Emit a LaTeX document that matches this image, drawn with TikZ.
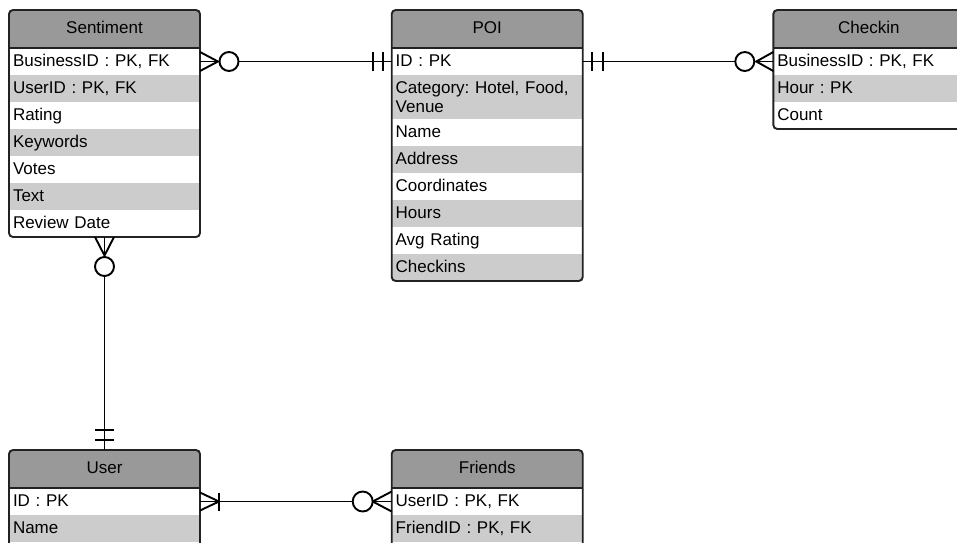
\documentclass[tikz,border=0pt]{standalone}
\usepackage{fontspec}
\setmainfont{Liberation Sans}
\frenchspacing
\definecolor{headgray}{HTML}{999999}
\definecolor{rowgray}{HTML}{CCCCCC}
\definecolor{edge}{HTML}{222222}
\tikzset{
  erfont/.style={font=\fontsize{17}{19.5}\selectfont\frenchspacing},
  erhead/.style={erfont, anchor=north west, minimum width=191pt, minimum height=38pt,
    fill=headgray, inner sep=0pt, outer sep=0pt, text height=12pt, text depth=3pt},
  rowbase/.style={erfont, anchor=north west, text width=183pt, inner xsep=4pt, inner ysep=0pt,
    minimum height=27pt, outer sep=0pt, align=left},
  erow/.style={rowbase, text height=12pt, text depth=3pt},
  whiterow/.style={erow, fill=white},
  grayrow/.style={erow, fill=rowgray},
  frame/.style={draw=edge, line width=1.9pt, rounded corners=4pt},
  divider/.style={draw=edge, line width=1.9pt},
  conn/.style={draw=black, line width=1.9pt},
}
\begin{document}
\begin{tikzpicture}[x=1pt,y=-1pt]
\useasboundingbox (0,0) rectangle (957,542);
\clip (0,0) rectangle (957,542);
\fill[white] (0,0) rectangle (957,542);

% ---------- Sentiment ----------
\begin{scope}
  \clip[rounded corners=4pt] (9,10) rectangle (200,237);
  \node[erhead] (sent) at (9,10) {Sentiment};
  \node[whiterow] (sent1) at (sent.south west) {BusinessID : PK, FK};
  \node[grayrow] (sent2) at (sent1.south west) {UserID : PK, FK};
  \node[whiterow] (sent3) at (sent2.south west) {Rating};
  \node[grayrow] (sent4) at (sent3.south west) {Keywords};
  \node[whiterow] (sent5) at (sent4.south west) {Votes};
  \node[grayrow] (sent6) at (sent5.south west) {Text};
  \node[whiterow] (sent7) at (sent6.south west) {Review Date};
\end{scope}
\draw[frame] (sent.north west) rectangle (sent7.south east);
\draw[divider] (sent.south west) -- (sent.south east);

% ---------- POI ----------
\begin{scope}
  \clip[rounded corners=4pt] (391.7,10) rectangle (582.7,281);
  \node[erhead] (poi) at (391.7,10) {POI};
  \node[whiterow] (poi1) at (poi.south west) {ID : PK};
  \node[rowbase, fill=rowgray, minimum height=44pt] (poi2) at (poi1.south west) {Category: Hotel, Food,\\Venue};
  \node[whiterow] (poi3) at (poi2.south west) {Name};
  \node[grayrow] (poi4) at (poi3.south west) {Address};
  \node[whiterow] (poi5) at (poi4.south west) {Coordinates};
  \node[grayrow] (poi6) at (poi5.south west) {Hours};
  \node[whiterow] (poi7) at (poi6.south west) {Avg Rating};
  \node[grayrow] (poi8) at (poi7.south west) {Checkins};
\end{scope}
\draw[frame] (poi.north west) rectangle (poi8.south east);
\draw[divider] (poi.south west) -- (poi.south east);

% ---------- Checkin ----------
\begin{scope}
  \clip[rounded corners=4pt] (773.3,10) rectangle (964.3,129);
  \node[erhead] (chk) at (773.3,10) {Checkin};
  \node[whiterow] (chk1) at (chk.south west) {BusinessID : PK, FK};
  \node[grayrow] (chk2) at (chk1.south west) {Hour : PK};
  \node[whiterow] (chk3) at (chk2.south west) {Count};
\end{scope}
\draw[frame] (chk.north west) rectangle (chk3.south east);
\draw[divider] (chk.south west) -- (chk.south east);

% ---------- User ----------
\begin{scope}
  \clip[rounded corners=4pt] (9,450) rectangle (200,560);
  \node[erhead] (user) at (9,450) {User};
  \node[whiterow] (user1) at (user.south west) {ID : PK};
  \node[grayrow] (user2) at (user1.south west) {Name};
\end{scope}
\draw[frame] (user.north west) rectangle ([yshift=-20pt]user2.south east);
\draw[divider] (user.south west) -- (user.south east);

% ---------- Friends ----------
\begin{scope}
  \clip[rounded corners=4pt] (391.7,450) rectangle (582.7,560);
  \node[erhead] (fr) at (391.7,450) {Friends};
  \node[whiterow] (fr1) at (fr.south west) {UserID : PK, FK};
  \node[grayrow] (fr2) at (fr1.south west) {FriendID : PK, FK};
\end{scope}
\draw[frame] (fr.north west) rectangle ([yshift=-20pt]fr2.south east);
\draw[divider] (fr.south west) -- (fr.south east);

% ---------- Sentiment (zero or many) -- POI (one and only one) ----------
\draw[conn] (sent1.east) -- (poi1.west);
\draw[conn] ([yshift=9.5pt]sent1.east) -- ([xshift=18pt]sent1.east) -- ([yshift=-9.5pt]sent1.east);
\draw[conn, fill=white] ([xshift=29pt]sent1.east) circle[radius=9.5pt];
\draw[conn] ([xshift=-19pt,yshift=9.5pt]poi1.west) -- ([xshift=-19pt,yshift=-9.5pt]poi1.west);
\draw[conn] ([xshift=-9pt,yshift=9.5pt]poi1.west) -- ([xshift=-9pt,yshift=-9.5pt]poi1.west);

% ---------- POI (one and only one) -- Checkin (zero or many) ----------
\draw[conn] (poi1.east) -- (chk1.west);
\draw[conn] ([xshift=9.5pt,yshift=9.5pt]poi1.east) -- ([xshift=9.5pt,yshift=-9.5pt]poi1.east);
\draw[conn] ([xshift=20pt,yshift=9.5pt]poi1.east) -- ([xshift=20pt,yshift=-9.5pt]poi1.east);
\draw[conn] ([yshift=9.5pt]chk1.west) -- ([xshift=-17pt]chk1.west) -- ([yshift=-9.5pt]chk1.west);
\draw[conn, fill=white] ([xshift=-28.5pt]chk1.west) circle[radius=9.5pt];

% ---------- Sentiment (zero or many) -- User (one and only one) ----------
\draw[conn] (sent7.south) -- (user.north);
\draw[conn] ([xshift=-9.5pt]sent7.south) -- ([yshift=-18.5pt]sent7.south) -- ([xshift=9.5pt]sent7.south);
\draw[conn, fill=white] ([yshift=-29.5pt]sent7.south) circle[radius=9.5pt];
\draw[conn] ([xshift=-9.5pt,yshift=20pt]user.north) -- ([xshift=9.5pt,yshift=20pt]user.north);
\draw[conn] ([xshift=-9.5pt,yshift=10pt]user.north) -- ([xshift=9.5pt,yshift=10pt]user.north);

% ---------- User (one or many) -- Friends (zero or many) ----------
\draw[conn] (user1.east) -- (fr1.west);
\draw[conn] ([yshift=9pt]user1.east) -- ([xshift=19pt]user1.east) -- ([yshift=-9pt]user1.east);
\draw[conn] ([xshift=19pt,yshift=9pt]user1.east) -- ([xshift=19pt,yshift=-9pt]user1.east);
\draw[conn] ([yshift=10pt]fr1.west) -- ([xshift=-19pt]fr1.west) -- ([yshift=-10pt]fr1.west);
\draw[conn, fill=white] ([xshift=-29pt]fr1.west) circle[radius=10pt];
\end{tikzpicture}
\end{document}
